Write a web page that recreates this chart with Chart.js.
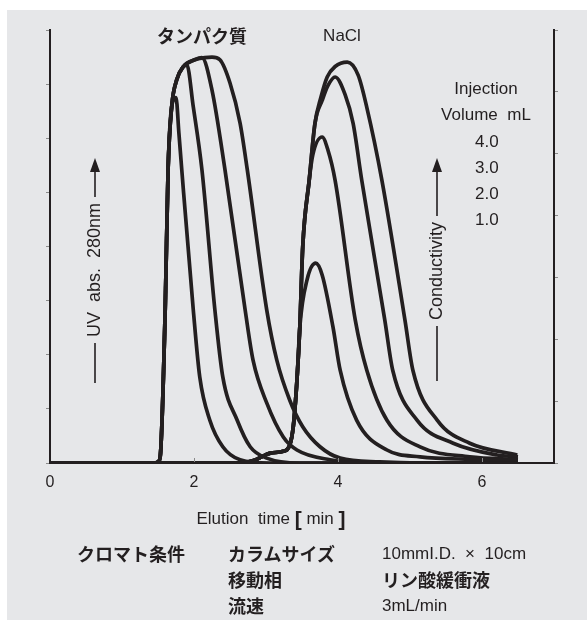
<!DOCTYPE html>
<html>
<head>
<meta charset="utf-8">
<script src="https://cdn.jsdelivr.net/npm/chart.js@4.4.1/dist/chart.umd.min.js"></script>
<style>
  html, body { margin: 0; padding: 0; background: #fff; }
  #wrap { position: relative; width: 587px; height: 624px; overflow: hidden; }
  #panel { position: absolute; left: 7px; top: 10px; width: 580px; height: 610px; background: #e6e7e9; }
  #chart { position: absolute; left: 0; top: 0; }
  .t { position: absolute; color: #231f20; white-space: pre; line-height: 1; }
  .b { font-family: "Noto Sans CJK JP", sans-serif; font-weight: bold; font-size: 18px; }
  .n { font-family: "Liberation Sans", Arial, sans-serif; font-size: 17px; }
</style>
</head>
<body>
<div id="wrap">
  <div id="panel"></div>
  <canvas id="chart" width="587" height="624"></canvas>
  <!-- クロマト条件 -->
  <div class="t b" style="left:77px; top:544px;">クロマト条件</div>
  <div class="t b" style="left:228px; top:544px;">カラムサイズ</div>
  <div class="t n" style="left:382px; top:545px;">10mmI.D.  ×  10cm</div>
  <div class="t b" style="left:228px; top:570px;">移動相</div>
  <div class="t b" style="left:382px; top:570px;">リン酸緩衝液</div>
  <div class="t b" style="left:228px; top:596px;">流速</div>
  <div class="t n" style="left:382px; top:597px;">3mL/min</div>
</div>
<script>
var ink = '#231f20';
var latin = '"Liberation Sans", Arial, sans-serif';
var cjk = '"Noto Sans CJK JP", sans-serif';

/* UV 280nm (左軸 0-8) */
var protTime1 = [0, 1.46, 1.50, 1.53, 1.60, 1.64, 1.69, 1.75, 1.79, 1.83, 1.99, 2.08, 2.22, 2.40, 2.64, 3.06, 6.5];
var protAbs1  = [0, 0, 0.02, 0.11, 2.83, 5.42, 6.58, 6.75, 6.10, 5.42, 2.83, 1.59, 0.79, 0.30, 0.06, 0, 0];
var protTime2 = [0, 1.46, 1.50, 1.53, 1.60, 1.64, 1.69, 1.76, 1.85, 1.90, 1.99, 2.11, 2.29, 2.40, 2.60, 2.78, 3.01, 3.47, 6.5];
var protAbs2  = [0, 0, 0.02, 0.11, 2.83, 5.42, 6.58, 7.08, 7.32, 7.36, 6.58, 5.42, 2.83, 1.59, 0.79, 0.30, 0.09, 0, 0];
var protTime3 = [0, 1.46, 1.50, 1.53, 1.60, 1.64, 1.69, 1.76, 1.85, 2.01, 2.11, 2.25, 2.43, 2.71, 2.82, 3.01, 3.24, 3.43, 3.89, 4.44, 6.5];
var protAbs3  = [0, 0, 0.02, 0.11, 2.83, 5.42, 6.58, 7.08, 7.32, 7.45, 7.49, 6.89, 5.42, 2.83, 1.90, 1.11, 0.48, 0.24, 0.06, 0, 0];
var protTime4 = [0, 1.46, 1.50, 1.53, 1.60, 1.64, 1.69, 1.76, 1.85, 2.01, 2.15, 2.25, 2.36, 2.50, 2.64, 2.74, 3.01, 3.15, 3.33, 3.51, 3.75, 4.03, 4.58, 5.14, 6.5];
var protAbs4  = [0, 0, 0.02, 0.11, 2.83, 5.42, 6.58, 7.08, 7.32, 7.45, 7.49, 7.50, 7.45, 7.02, 6.28, 5.42, 2.83, 1.90, 1.16, 0.67, 0.30, 0.09, 0.02, 0, 0];

/* Conductivity (右軸 0-7) */
var condTime1 = [0, 2.64, 2.85, 3.06, 3.24, 3.33, 3.38, 3.43, 3.47, 3.57, 3.69, 3.78, 3.93, 4.03, 4.26, 4.68, 5.14, 5.83, 6.5];
var condVal1  = [0, 0, 0.05, 0.16, 0.19, 0.29, 0.60, 1.34, 2.20, 2.96, 3.23, 3.04, 2.20, 1.50, 0.69, 0.21, 0.10, 0.06, 0.05];
var condTime2 = [0, 2.64, 2.85, 3.06, 3.24, 3.33, 3.38, 3.43, 3.47, 3.51, 3.60, 3.65, 3.78, 3.86, 3.96, 4.24, 4.40, 4.68, 5.14, 5.83, 6.5];
var condVal2  = [0, 0, 0.05, 0.16, 0.19, 0.29, 0.60, 1.34, 2.20, 3.49, 4.57, 4.98, 5.27, 5.06, 4.57, 2.31, 1.50, 0.69, 0.26, 0.10, 0.06];
var condTime3 = [0, 2.64, 2.85, 3.06, 3.24, 3.33, 3.38, 3.43, 3.47, 3.51, 3.60, 3.68, 3.78, 3.86, 3.96, 4.10, 4.21, 4.33, 4.65, 4.76, 5.10, 5.60, 6.21, 6.5];
var condVal3  = [0, 0, 0.05, 0.16, 0.19, 0.29, 0.60, 1.34, 2.20, 3.49, 4.57, 5.49, 5.86, 6.10, 6.24, 5.95, 5.49, 4.57, 2.31, 1.50, 0.69, 0.32, 0.13, 0.10];
var condTime4 = [0, 2.64, 2.85, 3.06, 3.24, 3.33, 3.38, 3.43, 3.47, 3.51, 3.60, 3.68, 3.76, 3.85, 3.96, 4.13, 4.28, 4.40, 4.61, 4.93, 5.04, 5.38, 5.83, 6.49];
var condVal4  = [0, 0, 0.05, 0.16, 0.19, 0.29, 0.60, 1.34, 2.20, 3.49, 4.57, 5.49, 5.90, 6.24, 6.41, 6.48, 6.27, 5.75, 4.57, 2.31, 1.50, 0.69, 0.32, 0.13];

var xTicks = [0, 2, 4, 6];
var injectionVolumes = ['4.0', '3.0', '2.0', '1.0'];

function pts(xs, ys) {
  return xs.map(function(x, i) { return { x: x, y: ys[i] }; });
}
function ds(label, xs, ys, axis) {
  return { label: label, data: pts(xs, ys), yAxisID: axis };
}

/* 注記・矢印など */
function vArrow(ctx, x, yFrom, yTip) {
  ctx.beginPath();
  ctx.moveTo(x, yFrom);
  ctx.lineTo(x, yTip + 13);
  ctx.stroke();
  ctx.beginPath();
  ctx.moveTo(x, yTip);
  ctx.lineTo(x - 5, yTip + 14);
  ctx.lineTo(x + 5, yTip + 14);
  ctx.closePath();
  ctx.fill();
}
function vLabel(ctx, x, yStart, text, lineLen, tipY) {
  ctx.save();
  ctx.font = '18px ' + latin;
  var w = ctx.measureText(text).width;
  ctx.translate(x, yStart);
  ctx.rotate(-Math.PI / 2);
  ctx.textAlign = 'left';
  ctx.textBaseline = 'middle';
  ctx.fillText(text, 0, 0);
  ctx.restore();
  ctx.beginPath();
  ctx.moveTo(x, yStart + 6);
  ctx.lineTo(x, yStart + 6 + lineLen);
  ctx.stroke();
  vArrow(ctx, x, yStart - w - 6, tipY);
}

var annot = {
  id: 'annot',
  afterDraw: function(chart) {
    var ctx = chart.ctx;
    var area = chart.chartArea;
    var xs = chart.scales.x;
    ctx.save();
    // 内向きの目盛り
    ctx.strokeStyle = '#8a8a8a';
    ctx.lineWidth = 1;
    xTicks.forEach(function(v) {
      if (v <= 0) return;
      var px = Math.round(xs.getPixelForValue(v)) + 0.5;
      ctx.beginPath();
      ctx.moveTo(px, area.bottom - 1);
      ctx.lineTo(px, area.bottom - 5);
      ctx.stroke();
    });

    ctx.fillStyle = ink;
    ctx.strokeStyle = ink;
    ctx.textBaseline = 'middle';
    ctx.textAlign = 'center';
    ctx.font = 'bold 18px ' + cjk;
    ctx.fillText('タンパク質', 202, 36);
    ctx.font = '17px ' + latin;
    ctx.fillText('NaCl', 342, 36);
    ctx.fillText('Injection', 486, 89);
    ctx.fillText('Volume  mL', 486, 115);
    ctx.textAlign = 'left';
    injectionVolumes.forEach(function(v, i) {
      ctx.fillText(v, 475, 142 + i * 26);
    });

    // 縦軸ラベル
    ctx.lineWidth = 1.6;
    vLabel(ctx, 95, 337, 'UV  abs.  280nm', 40, 158);
    vLabel(ctx, 437, 320, 'Conductivity', 55, 158);

    // 横軸タイトル
    var parts = [
      ['Elution  time ', '17px ' + latin, 0],
      ['[', 'bold 21px ' + latin, 1],
      [' min ', '17px ' + latin, 0],
      [']', 'bold 21px ' + latin, 1]
    ];
    var total = 0;
    parts.forEach(function(p) { ctx.font = p[1]; p.push(ctx.measureText(p[0]).width); total += p[3]; });
    var cx = 271 - total / 2;
    ctx.textAlign = 'left';
    parts.forEach(function(p) {
      ctx.font = p[1];
      ctx.fillText(p[0], cx, 519 + p[2]);
      cx += p[3];
    });
    ctx.restore();
  }
};

var ctx = document.getElementById('chart').getContext('2d');
var chart = new Chart(ctx, {
  type: 'line',
  data: {
    datasets: [
      ds('タンパク質 1.0 mL', protTime1, protAbs1, 'y'),
      ds('タンパク質 2.0 mL', protTime2, protAbs2, 'y'),
      ds('タンパク質 3.0 mL', protTime3, protAbs3, 'y'),
      ds('タンパク質 4.0 mL', protTime4, protAbs4, 'y'),
      ds('NaCl 1.0 mL', condTime1, condVal1, 'y1'),
      ds('NaCl 2.0 mL', condTime2, condVal2, 'y1'),
      ds('NaCl 3.0 mL', condTime3, condVal3, 'y1'),
      ds('NaCl 4.0 mL', condTime4, condVal4, 'y1')
    ]
  },
  options: {
    responsive: false,
    animation: false,
    devicePixelRatio: 1,
    layout: { padding: { top: 30, left: 0, right: 0, bottom: 0 } },
    plugins: { legend: { display: false }, tooltip: { enabled: false } },
    elements: {
      point: { radius: 0 },
      line: { borderWidth: 3.7, borderColor: ink, cubicInterpolationMode: 'monotone', fill: false }
    },
    scales: {
      x: {
        type: 'linear', min: 0, max: 7,
        afterFit: function(s) { s.height = 161; },
        afterBuildTicks: function(s) { s.ticks = xTicks.map(function(v) { return { value: v }; }); },
        ticks: { color: ink, font: { family: latin, size: 16 }, padding: 10, maxRotation: 0 },
        grid: { display: false, drawTicks: false, tickLength: 0 },
        border: { display: true, color: ink, width: 2 }
      },
      y: {
        position: 'left', min: 0, max: 8,
        afterFit: function(s) { s.width = 50; },
        ticks: { display: false, stepSize: 1 },
        grid: { drawOnChartArea: false, drawTicks: true, tickLength: 4, color: '#8a8a8a', lineWidth: 1 },
        border: { display: true, color: ink, width: 2 }
      },
      y1: {
        position: 'right', min: 0, max: 7,
        afterFit: function(s) { s.width = 33; },
        ticks: { display: false, stepSize: 1 },
        grid: { drawOnChartArea: false, drawTicks: true, tickLength: 4, color: '#8a8a8a', lineWidth: 1 },
        border: { display: true, color: ink, width: 2 }
      }
    }
  },
  plugins: [annot]
});
</script>
</body>
</html>
